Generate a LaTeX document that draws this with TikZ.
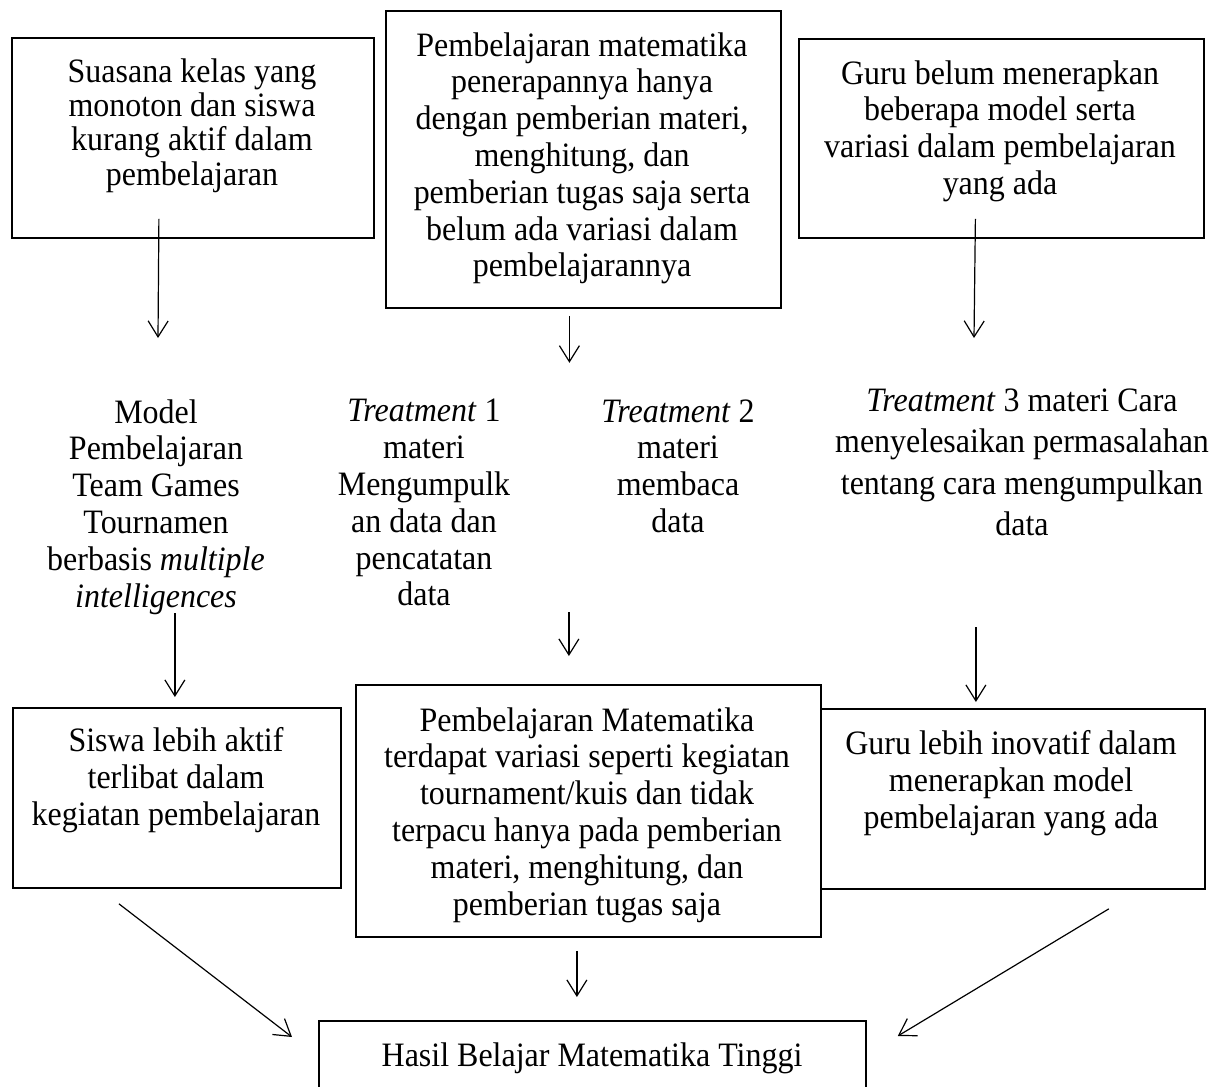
\documentclass[tikz,border=0pt]{standalone}
\usepackage{fontspec}
\setmainfont{Liberation Serif}[FakeStretch=0.935]
\usetikzlibrary{arrows, arrows.meta}
\usetikzlibrary{calc}

\tikzset{
  frame/.style={draw, line width=0.9pt, inner sep=0pt, anchor=north west},
  txt/.style={align=center, inner sep=0pt, anchor=north, font=\fontsize{17.1}{18.4}\selectfont},
  arr/.style={-{Straight Barb[length=8pt, width=10pt]}, line width=0.6pt}
}

\begin{document}
\begin{tikzpicture}[x=0.5pt, y=-0.5pt]
      \useasboundingbox (0,0) rectangle (1230,1086);
      \clip (0,0) rectangle (1230,1086);

      \node[frame, minimum width=181pt, minimum height=100pt] (sa) at (11,37) {};
      \node[frame, minimum width=197.5pt, minimum height=148.5pt] (sb) at (385,10) {};
      \node[frame, minimum width=202.5pt, minimum height=99.5pt] (sc) at (798,38) {};
      \node[frame, minimum width=164pt, minimum height=90pt] (sd) at (12,707) {};
      \node[frame, minimum width=232.5pt, minimum height=126pt] (se) at (355,684) {};
      \node[frame, minimum width=192pt, minimum height=90pt] (sf) at (820,708) {};
      \node[frame, minimum width=273.5pt, minimum height=40pt] (sg) at (318,1020) {};

      \node[txt, font=\fontsize{17.1}{17.2}\selectfont] (saT) at (192,58) {Suasana kelas yang\\monoton dan siswa\\kurang aktif dalam\\pembelajaran};
      \node[txt] (sbT) at (582,32) {Pembelajaran matematika\\penerapannya hanya\\dengan pemberian materi,\\menghitung, dan\\pemberian tugas saja serta\\belum ada variasi dalam\\pembelajarannya};
      \node[txt] (scT) at (1000,60) {Guru belum menerapkan\\beberapa model serta\\variasi dalam pembelajaran\\yang ada};

      \node[txt] (model) at (156,399) {Model\\Pembelajaran\\Team Games\\Tournamen\\berbasis \textit{multiple}\\\textit{intelligences}};
      \node[txt] (tr1) at (424,399) {\textit{Treatment} 1\\materi\\Mengumpulk\\an data dan\\pencatatan\\data};
      \node[txt] (tr2) at (678,399) {\textit{Treatment} 2\\materi\\membaca\\data};
      \node[txt, font=\fontsize{17.1}{20.8}\selectfont] (tr3) at (1022,388) {\textit{Treatment} 3 materi Cara\\menyelesaikan permasalahan\\tentang cara mengumpulkan\\data};

      \node[txt] (sdT) at (176,727) {Siswa lebih aktif\\terlibat dalam\\kegiatan pembelajaran};
      \node[txt] (seT) at (587,707) {Pembelajaran Matematika\\terdapat variasi seperti kegiatan\\tournament/kuis dan tidak\\terpacu hanya pada pemberian\\materi, menghitung, dan\\pemberian tugas saja};
      \node[txt] (sfT) at (1011,730) {Guru lebih inovatif dalam\\menerapkan model\\pembelajaran yang ada};
      \node[txt] (sgT) at (592,1042) {Hasil Belajar Matematika Tinggi};

      \draw[arr] ($(sa.south)+(-34,-20)$) -- ($(model.north)+(2,-61)$);
      \draw[arr] ($(sb.south)+(-14,7)$) -- ++(0,47);
      \draw[arr] ($(sc.south)+(-26,-20)$) -- ($(tr3.north)+(-48,-50)$);

      \draw[arr] ($(sd.north)+(-2,-94)$) -- ($(sd.north)+(-2,-10)$);
      \draw[arr] ($(se.north)+(-19.5,-72)$) -- ($(se.north)+(-19.5,-28)$);
      \draw[arr] ($(sf.north)+(-37,-81)$) -- ($(sf.north)+(-37,-6)$);

      \draw[arr] ($(sd.south)+(-58,15)$) -- ($(sg.north west)+(-26,17)$);
      \draw[arr] ($(se.south)+(-11.5,13)$) -- ($(sg.north)+(-15.5,-23)$);
      \draw[arr] ($(sf.south)+(96,19)$) -- ($(sg.north east)+(31,16)$);
    \end{tikzpicture}
\end{document}
